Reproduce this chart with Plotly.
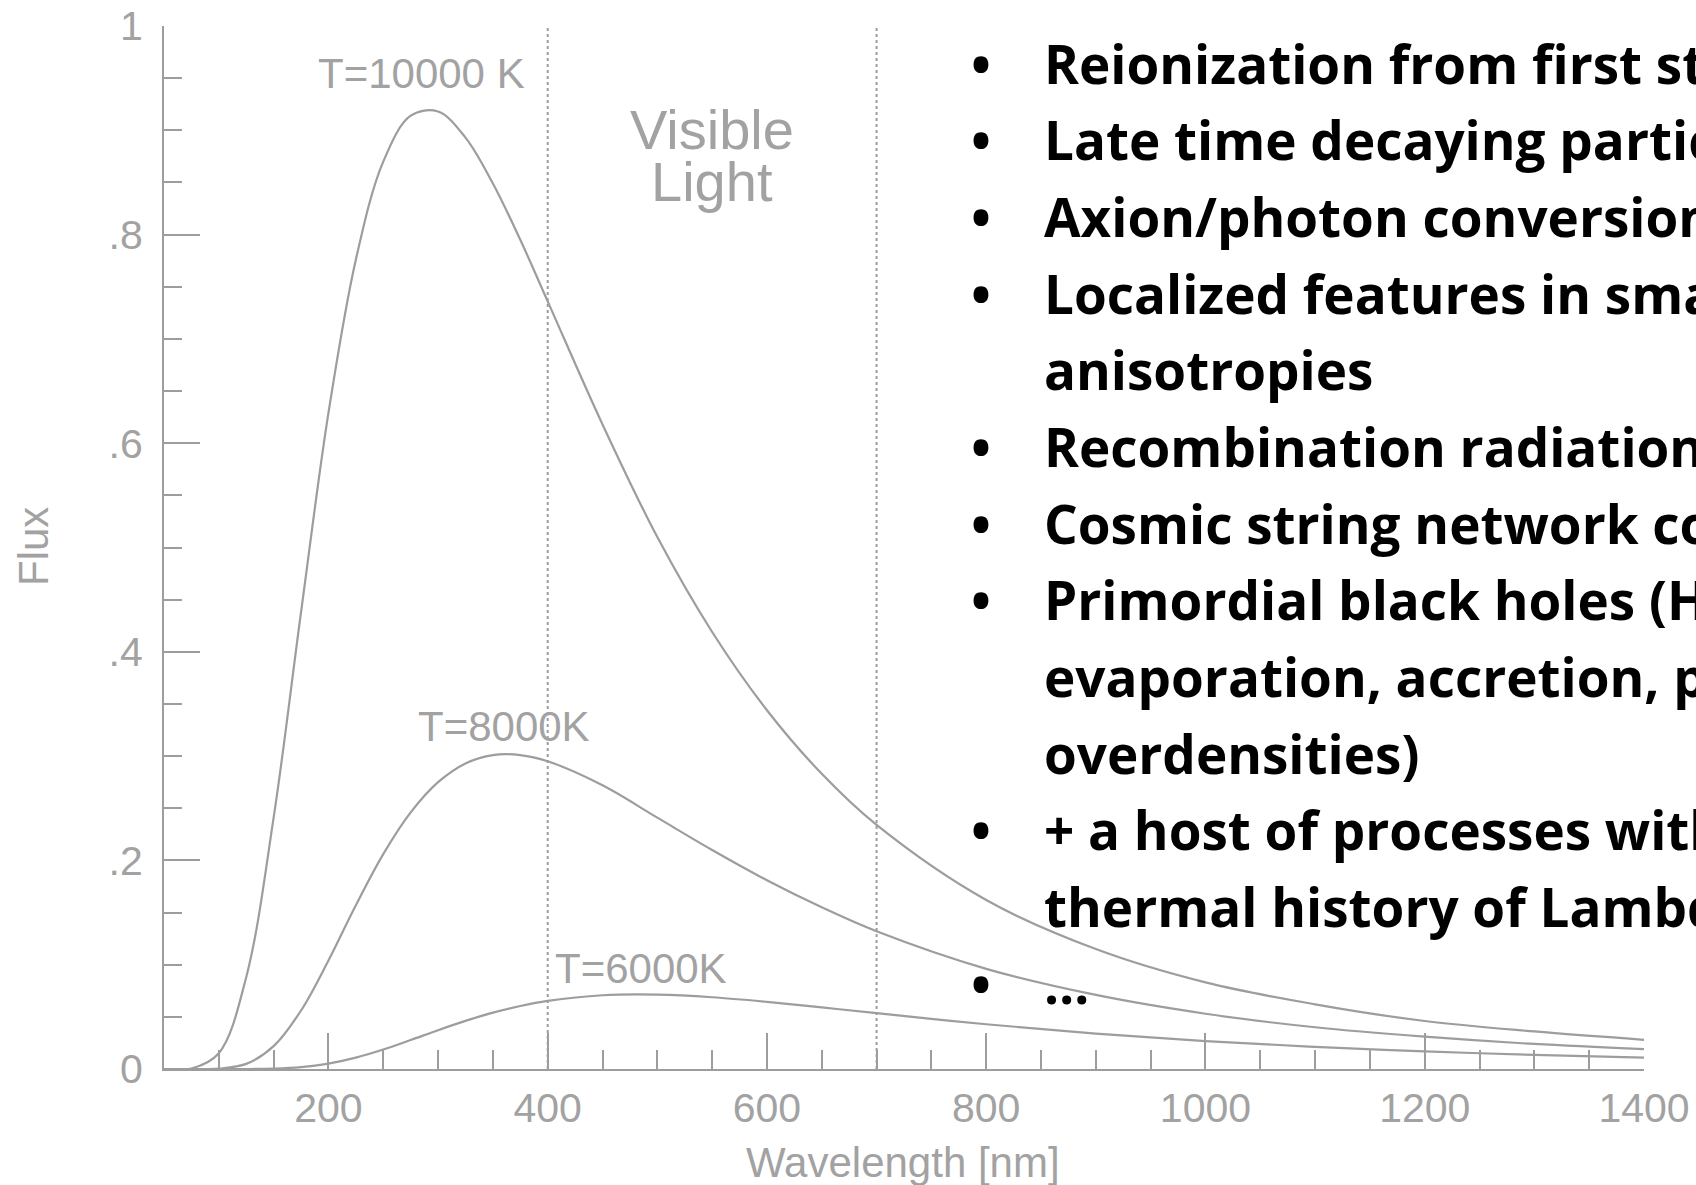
import plotly.graph_objects as go

# wavelength grid [nm] and flux
WAVELENGTH = [50, 75, 100, 125, 150, 175, 200, 225, 250, 275, 300, 325, 350, 375,
              400, 450, 500, 550, 600, 650, 700, 800, 900, 1000, 1100, 1200, 1300, 1400]
FLUX_10000K = [0.0, 0.0005, 0.0151, 0.088, 0.241, 0.438, 0.629, 0.776, 0.870, 0.914,
               0.918, 0.893, 0.849, 0.795, 0.736, 0.618, 0.510, 0.419, 0.344, 0.283,
               0.234, 0.162, 0.115, 0.083, 0.062, 0.046, 0.036, 0.028]
FLUX_8000K = [0.0, 0.0, 0.0004, 0.0049, 0.0219, 0.0561, 0.104, 0.157, 0.206, 0.246,
              0.275, 0.293, 0.301, 0.301, 0.295, 0.272, 0.241, 0.210, 0.181, 0.155,
              0.132, 0.096, 0.071, 0.053, 0.040, 0.031, 0.024, 0.019]
FLUX_6000K = [0.0, 0.0, 0.0, 0.0, 0.0004, 0.0018, 0.0052, 0.0109, 0.0187, 0.0278,
              0.0372, 0.0461, 0.0540, 0.0604, 0.0653, 0.0707, 0.0713, 0.0688, 0.0644,
              0.0591, 0.0535, 0.0429, 0.0339, 0.0268, 0.0212, 0.0169, 0.0135, 0.0110]

CURVE_LABELS = ["T=10000 K", "T=8000K", "T=6000K"]
VISIBLE_EDGES = [400, 700]
Y_TICKS = [0, 0.2, 0.4, 0.6, 0.8, 1]
Y_TICK_TEXT = ["0", ".2", ".4", ".6", ".8", "1"]

BULLETS = [
    ("•", "Reionization from first stars"),
    ("•", "Late time decaying particles"),
    ("•", "Axion/photon conversion"),
    ("•", "Localized features in small scale"),
    ("", "anisotropies"),
    ("•", "Recombination radiation"),
    ("•", "Cosmic string network collapse"),
    ("•", "Primordial black holes (Hawking"),
    ("", "evaporation, accretion, primordial"),
    ("", "overdensities)"),
    ("•", "+ a host of processes within the"),
    ("", "thermal history of Lambda-CDM"),
    ("•", "…"),
]

GREY = "#9d9d9d"
TEXT_GREY = "#a2a2a2"
W, H = 1696, 1185
PLOT_L, PLOT_R, PLOT_T, PLOT_B = 164, 1644, 26, 1069


def px(x):
    return (x - PLOT_L) / (PLOT_R - PLOT_L)


def py(y):
    return (PLOT_B - y) / (PLOT_B - PLOT_T)


fig = go.Figure()
for flux in (FLUX_10000K, FLUX_8000K, FLUX_6000K):
    fig.add_trace(go.Scatter(
        x=WAVELENGTH, y=flux, mode="lines",
        line=dict(color=GREY, width=2.2, shape="spline", smoothing=1),
        showlegend=False, hoverinfo="skip",
    ))

for edge in VISIBLE_EDGES:
    fig.add_shape(type="line", x0=edge, x1=edge, y0=0, y1=1.003, xref="x", yref="y",
                  line=dict(color=GREY, width=2, dash="dot"))

axis_font = dict(family="Liberation Sans, Arial, sans-serif", size=41, color=TEXT_GREY)
fig.update_xaxes(
    range=[50, 1400], automargin=False, showline=True, linecolor=GREY, linewidth=2,
    ticks="inside", tick0=0, dtick=200, ticklen=36, tickwidth=2, tickcolor=GREY,
    minor=dict(tickmode="linear", tick0=0, dtick=50, ticks="inside", ticklen=19,
               tickwidth=2, tickcolor=GREY),
    showgrid=False, zeroline=False, tickfont=axis_font, ticklabelstandoff=2,
)
fig.update_yaxes(
    range=[0, 1], automargin=False, showline=True, linecolor=GREY, linewidth=2,
    ticks="inside", tickmode="array", tickvals=Y_TICKS, ticktext=Y_TICK_TEXT,
    ticklen=36, tickwidth=2, tickcolor=GREY,
    minor=dict(tickmode="linear", tick0=0, dtick=0.05, ticks="inside", ticklen=18,
               tickwidth=2, tickcolor=GREY),
    showgrid=False, zeroline=False, tickfont=axis_font, ticklabelstandoff=11,
)

ann = []
# axis titles
ann.append(dict(text="Wavelength [nm]", x=px(903), y=py(1162), xanchor="center", yanchor="middle",
                font=dict(family="Liberation Sans, Arial, sans-serif", size=42, color=TEXT_GREY)))
ann.append(dict(text="Flux", x=px(33), y=py(547), xanchor="center", yanchor="middle", textangle=-90,
                font=dict(family="Liberation Sans, Arial, sans-serif", size=42, color=TEXT_GREY)))
# curve labels
for label, (lx, ly) in zip(CURVE_LABELS, [(316, 73), (416, 727), (553, 968)]):
    ann.append(dict(text=label, x=px(lx), y=py(ly), xanchor="left", yanchor="middle",
                    font=dict(family="Liberation Sans, Arial, sans-serif", size=42, color=TEXT_GREY)))
# visible light
for word, wy in [("Visible", 129), ("Light", 181)]:
    ann.append(dict(text=word, x=px(712), y=py(wy), xanchor="center", yanchor="middle",
                    font=dict(family="Liberation Sans, Arial, sans-serif", size=56, color=TEXT_GREY)))

# bullet list
bullet_font = dict(family="Open Sans, sans-serif", size=53, color="black")
for i, (mark, line) in enumerate(BULLETS):
    cy = 63.2 + 76.67 * i
    if mark:
        ann.append(dict(text="<b>" + mark + "</b>", x=px(981), y=py(cy), xanchor="center",
                        yanchor="middle", font=bullet_font))
    ann.append(dict(text="<b>" + line + "</b>", x=px(1042), y=py(cy), xanchor="left",
                    yanchor="middle", font=bullet_font))

for a in ann:
    a.update(xref="paper", yref="paper", showarrow=False)

fig.update_layout(
    width=W, height=H, margin=dict(l=PLOT_L, r=W - PLOT_R, t=PLOT_T, b=H - PLOT_B),
    paper_bgcolor="white", plot_bgcolor="white", annotations=ann,
)

fig.write_html("out.html", config={"displayModeBar": False},
               post_script="document.body.style.margin='0';")
